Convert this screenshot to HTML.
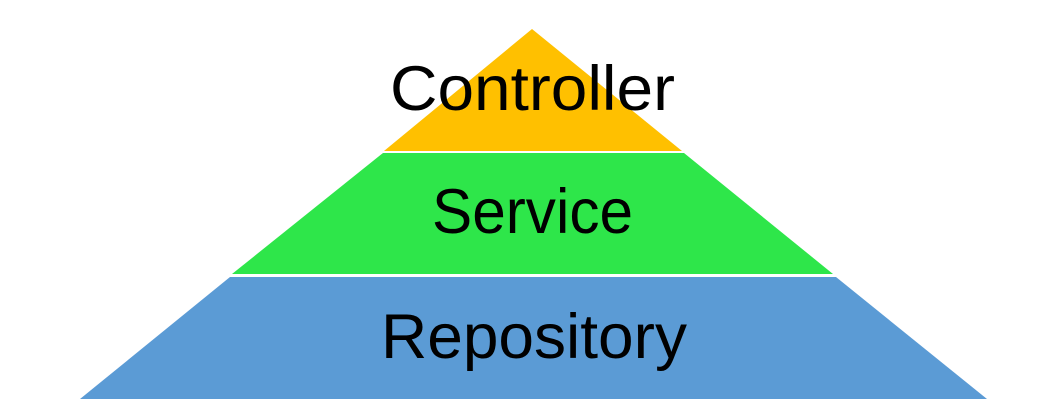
<!DOCTYPE html>
<html><head><meta charset="utf-8"><style>html,body{margin:0;padding:0;background:#fff}svg{display:block}</style></head>
<body>
<svg width="1058" height="415" viewBox="0 0 1058 415" xmlns="http://www.w3.org/2000/svg">
<rect width="1058" height="415" fill="#fff"/>
<polygon points="532,29 682,151 384,151" fill="#FFC000"/>
<polygon points="383,153 684,153 833,274 232,274" fill="#2EE64A"/>
<polygon points="230,277 836,277 987,399 80,399" fill="#5B9BD5"/>
<g font-family="Liberation Sans, sans-serif" font-size="63" fill="#000">
<text x="390" y="110" textLength="285" lengthAdjust="spacingAndGlyphs">Controller</text>
<text x="432" y="233" textLength="201" lengthAdjust="spacingAndGlyphs">Service</text>
<text x="381" y="358" textLength="306" lengthAdjust="spacingAndGlyphs">Repository</text>
</g>
</svg>
</body></html>
